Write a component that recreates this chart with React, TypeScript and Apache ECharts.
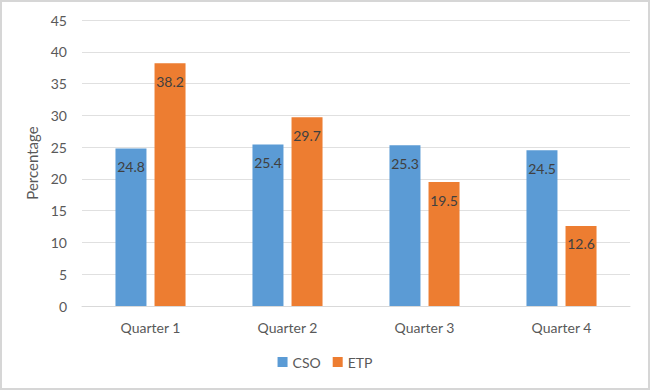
import React, { useEffect, useRef } from "react";
import * as echarts from "echarts";

const categories = ["Quarter 1", "Quarter 2", "Quarter 3", "Quarter 4"];
const csoValues = [24.8, 25.4, 25.3, 24.5];
const etpValues = [38.2, 29.7, 19.5, 12.6];

export default function App() {
  const ref = useRef<HTMLDivElement>(null);
  useEffect(() => {
    document.body.style.margin = "0";
    const chart = echarts.init(ref.current!, null, { renderer: "svg" });
    const font = "Lato, 'Open Sans', sans-serif";
    const label = {
      show: true,
      position: "insideTop" as const,
      distance: 11,
      color: "#404040",
      fontSize: 14,
      fontFamily: font,
    };
    chart.setOption({
      animation: false,
      backgroundColor: "#ffffff",
      textStyle: { fontFamily: font },
      grid: { left: 80, right: 18, top: 18, bottom: 82 },
      legend: {
        bottom: 14,
        left: "center",
        itemWidth: 10,
        itemHeight: 10,
        itemGap: 12,
        icon: "rect",
        textStyle: { color: "#595959", fontSize: 14, fontFamily: font },
        data: ["CSO", "ETP"],
      },
      xAxis: {
        type: "category",
        data: categories,
        axisLine: { lineStyle: { color: "#d9d9d9" } },
        axisTick: { show: false },
        axisLabel: { color: "#595959", fontSize: 14, margin: 14, fontFamily: font },
      },
      yAxis: {
        type: "value",
        min: 0,
        max: 45,
        interval: 5,
        name: "Percentage",
        nameLocation: "middle",
        nameRotate: 90,
        nameGap: 42,
        nameTextStyle: { color: "#595959", fontSize: 15, fontFamily: font },
        axisLine: { show: false },
        axisTick: { show: false },
        axisLabel: { color: "#595959", fontSize: 14, margin: 15, fontFamily: font },
        splitLine: { lineStyle: { color: "#e0e0e0" } },
      },
      series: [
        {
          name: "CSO",
          type: "bar",
          data: csoValues,
          barWidth: 31,
          barGap: "26%",
          itemStyle: { color: "#5B9BD5" },
          label,
        },
        {
          name: "ETP",
          type: "bar",
          data: etpValues,
          barWidth: 31,
          barGap: "26%",
          itemStyle: { color: "#ED7D31" },
          label,
        },
      ],
    });
    return () => chart.dispose();
  }, []);
  return (
    <div
      style={{
        width: 650,
        height: 390,
        boxSizing: "border-box",
        border: "2px solid #d6d6d6",
        background: "#fff",
      }}
    >
      <div ref={ref} style={{ width: 646, height: 386 }} />
    </div>
  );
}
